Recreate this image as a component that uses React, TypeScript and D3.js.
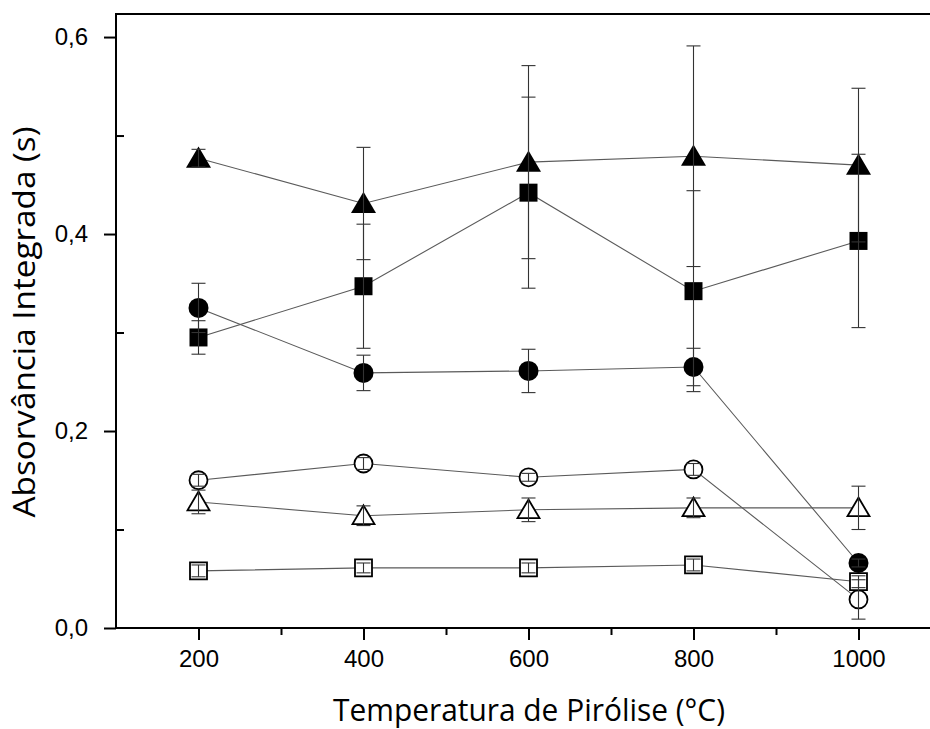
import React, { useEffect, useRef } from "react";
import * as d3 from "d3";

const temperatures = [200, 400, 600, 800, 1000];

// series, named after their marker
const filledTriangle = [0.477, 0.431, 0.473, 0.479, 0.47];
const filledTriangleErr = [0.009, 0.057, 0.098, 0.112, 0.078];
const filledSquare = [0.295, 0.347, 0.442, 0.342, 0.393];
const filledSquareErr = [0.017, 0.063, 0.097, 0.102, 0.088];
const filledCircle = [0.325, 0.259, 0.261, 0.265, 0.066];
const filledCircleErr = [0.025, 0.018, 0.022, 0.019, 0.004];
const openCircle = [0.15, 0.167, 0.153, 0.161, 0.029];
const openCircleErr = [0.006, 0.006, 0.004, 0.006, 0.02];
const openTriangle = [0.128, 0.114, 0.12, 0.122, 0.122];
const openTriangleErr = [0.012, 0.01, 0.012, 0.01, 0.022];
const openSquare = [0.058, 0.061, 0.061, 0.064, 0.047];
const openSquareErr = [0.006, 0.005, 0.005, 0.006, 0.006];

const xTicks = [200, 400, 600, 800, 1000];
const xMinorTicks = [300, 500, 700, 900, 1100];
const yTicks = [0, 0.2, 0.4, 0.6];
const yMinorTicks = [0.1, 0.3, 0.5];

const xTitle = "Temperatura de Pirólise (°C)";
const yTitle = "Absorvância Integrada (s)";

type Shape = "triangle" | "square" | "circle";

function markerPath(shape: Shape, size: number) {
  const h = size / 2;
  if (shape === "square") return `M${-h},${-h}H${h}V${h}H${-h}Z`;
  if (shape === "circle")
    return `M${-h},0A${h},${h} 0 1,0 ${h},0A${h},${h} 0 1,0 ${-h},0Z`;
  const th = size * 0.85;
  return `M0,${-th / 2 - 1}L${h},${th / 2 - 1}L${-h},${th / 2 - 1}Z`;
}

export default function App() {
  const svgRef = useRef<SVGSVGElement>(null);

  useEffect(() => {
    if (!svgRef.current) return;
    const svg = d3.select(svgRef.current);
    svg.selectAll("*").remove();

    const left = 116;
    const right = 941;
    const top = 14;
    const bottom = 628;

    const x = d3.scaleLinear().domain([100, 1100]).range([left, right]);
    const y = d3.scaleLinear().domain([0, 0.6234]).range([bottom, top]);

    const tickFont = "'Liberation Sans', Arial, sans-serif";
    const titleFont = "'Open Sans', 'Noto Sans', sans-serif";
    const fmt = (d: d3.NumberValue) => d3.format(".1f")(+d).replace(".", ",");

    const series = [
      { values: filledSquare, errors: filledSquareErr, shape: "square" as Shape, filled: true, size: 18 },
      { values: filledTriangle, errors: filledTriangleErr, shape: "triangle" as Shape, filled: true, size: 25 },
      { values: filledCircle, errors: filledCircleErr, shape: "circle" as Shape, filled: true, size: 20 },
      { values: openTriangle, errors: openTriangleErr, shape: "triangle" as Shape, filled: false, size: 22 },
      { values: openCircle, errors: openCircleErr, shape: "circle" as Shape, filled: false, size: 18 },
      { values: openSquare, errors: openSquareErr, shape: "square" as Shape, filled: false, size: 17 },
    ];

    const line = d3
      .line<number>()
      .x((_, i) => x(temperatures[i]))
      .y((d) => y(d));

    // connecting lines
    series.forEach((s) => {
      svg
        .append("path")
        .datum(s.values)
        .attr("fill", "none")
        .attr("stroke", "#5a5a5a")
        .attr("stroke-width", 1.1)
        .attr("d", line);
    });

    // markers
    series.forEach((s) => {
      svg
        .append("g")
        .selectAll("path")
        .data(s.values)
        .join("path")
        .attr("transform", (d, i) => `translate(${x(temperatures[i])},${y(d)})`)
        .attr("d", markerPath(s.shape, s.size))
        .attr("fill", s.filled ? "#000" : "#fff")
        .attr("stroke", "#000")
        .attr("stroke-width", s.filled ? 0 : 1.8);
    });

    // error bars
    series.forEach((s) => {
      const g = svg.append("g").attr("stroke", "#333").attr("stroke-width", 1.1);
      s.values.forEach((v, i) => {
        const cx = x(temperatures[i]);
        const e = s.errors[i];
        g.append("line")
          .attr("x1", cx)
          .attr("x2", cx)
          .attr("y1", y(v - e))
          .attr("y2", y(v + e));
        [v - e, v + e].forEach((c) => {
          g.append("line")
            .attr("x1", cx - 7)
            .attr("x2", cx + 7)
            .attr("y1", y(c))
            .attr("y2", y(c));
        });
      });
    });

    // frame
    svg
      .append("path")
      .attr("d", `M${left},${bottom}V${top}H${right}V${bottom}Z`)
      .attr("fill", "none")
      .attr("stroke", "#000")
      .attr("stroke-width", 2);

    // x axis
    const xAxis = svg
      .append("g")
      .attr("transform", `translate(0,${bottom})`)
      .call(d3.axisBottom(x).tickValues(xTicks).tickSize(12).tickPadding(10).tickFormat(d3.format("d")));
    xAxis.select(".domain").remove();
    xAxis.selectAll("line").attr("stroke-width", 2);
    xAxis.selectAll("text").attr("font-family", tickFont).attr("font-size", 24).attr("fill", "#000");

    const xMinor = svg
      .append("g")
      .attr("transform", `translate(0,${bottom})`)
      .call(d3.axisBottom(x).tickValues(xMinorTicks).tickSize(7).tickFormat(() => ""));
    xMinor.select(".domain").remove();
    xMinor.selectAll("line").attr("stroke-width", 2);

    // y axis
    const yAxis = svg
      .append("g")
      .attr("transform", `translate(${left},0)`)
      .call(d3.axisLeft(y).tickValues(yTicks).tickSize(12).tickPadding(16).tickFormat(fmt));
    yAxis.select(".domain").remove();
    yAxis.selectAll("line").attr("stroke-width", 2);
    yAxis.selectAll("text").attr("font-family", tickFont).attr("font-size", 24).attr("fill", "#000");

    const yMinor = svg
      .append("g")
      .attr("transform", `translate(${left},0)`)
      .call(d3.axisLeft(y).tickValues(yMinorTicks).tickSize(-8).tickFormat(() => ""));
    yMinor.select(".domain").remove();
    yMinor.selectAll("line").attr("stroke-width", 2);

    // titles
    svg
      .append("text")
      .attr("x", 529)
      .attr("y", 721)
      .attr("text-anchor", "middle")
      .attr("font-family", titleFont)
      .attr("font-size", 31)
      .attr("textLength", 392)
      .attr("lengthAdjust", "spacingAndGlyphs")
      .attr("fill", "#000")
      .text(xTitle);

    svg
      .append("text")
      .attr("transform", "translate(35,322) rotate(-90)")
      .attr("text-anchor", "middle")
      .attr("font-family", titleFont)
      .attr("font-size", 31)
      .attr("textLength", 391)
      .attr("lengthAdjust", "spacingAndGlyphs")
      .attr("fill", "#000")
      .text(yTitle);
  }, []);

  return (
    <svg
      ref={svgRef}
      width={930}
      height={729}
      style={{ position: "absolute", left: 0, top: 0, background: "#fff" }}
    />
  );
}
